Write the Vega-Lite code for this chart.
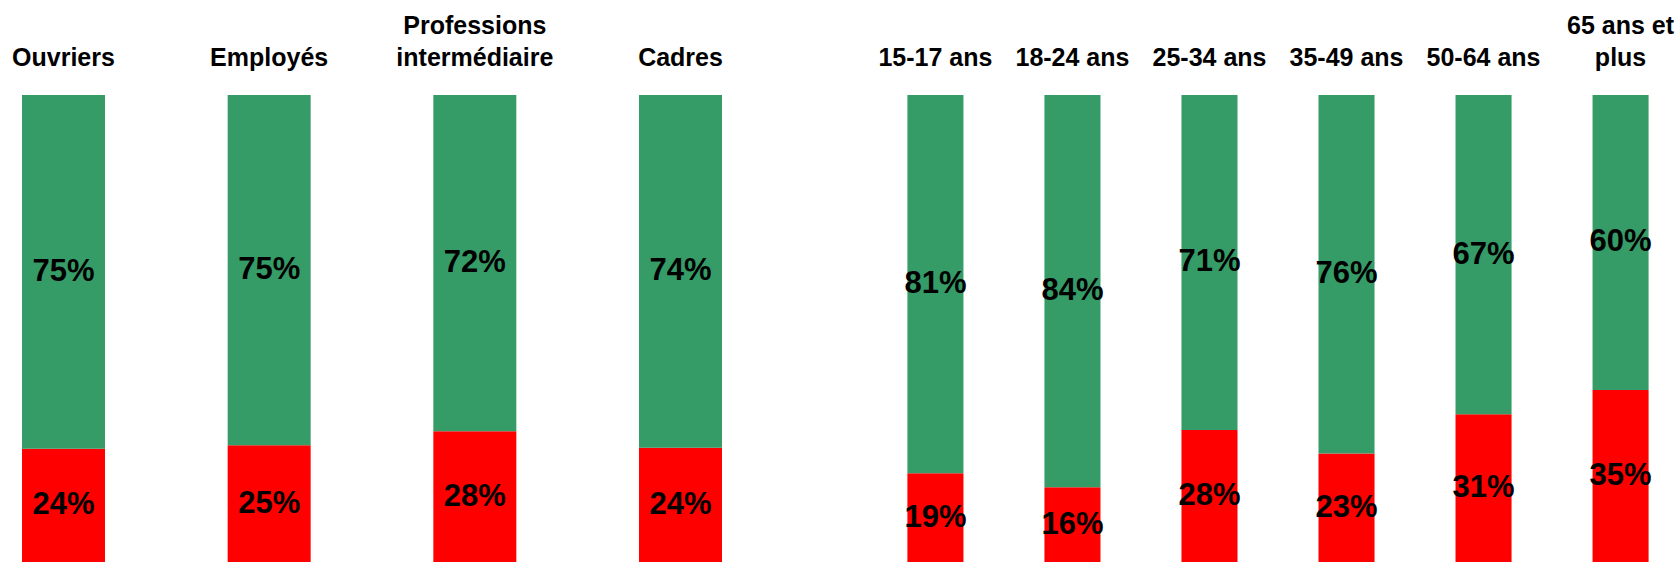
{
  "$schema": "https://vega.github.io/schema/vega-lite/v6.json",
  "padding": {"left": 0, "top": 13, "right": 0, "bottom": 0},
  "background": "white",
  "config": {
    "view": {"stroke": null},
    "font": "Liberation Sans",
    "axis": {"labelColor": "#000000", "labelFont": "Liberation Sans", "labelFontWeight": "bold", "labelFontSize": 25}
  },
  "datasets": {
    "professions": [
      {"cat": "Ouvriers", "serie": "Non", "val": 0.24},
      {"cat": "Ouvriers", "serie": "Oui", "val": 0.75},
      {"cat": "Employés", "serie": "Non", "val": 0.25},
      {"cat": "Employés", "serie": "Oui", "val": 0.75},
      {"cat": "Professions\nintermédiaire", "serie": "Non", "val": 0.28},
      {"cat": "Professions\nintermédiaire", "serie": "Oui", "val": 0.72},
      {"cat": "Cadres", "serie": "Non", "val": 0.24},
      {"cat": "Cadres", "serie": "Oui", "val": 0.74}
    ],
    "ages": [
      {"cat": "15-17 ans", "serie": "Non", "val": 0.19},
      {"cat": "15-17 ans", "serie": "Oui", "val": 0.81},
      {"cat": "18-24 ans", "serie": "Non", "val": 0.16},
      {"cat": "18-24 ans", "serie": "Oui", "val": 0.84},
      {"cat": "25-34 ans", "serie": "Non", "val": 0.28},
      {"cat": "25-34 ans", "serie": "Oui", "val": 0.71},
      {"cat": "35-49 ans", "serie": "Non", "val": 0.23},
      {"cat": "35-49 ans", "serie": "Oui", "val": 0.76},
      {"cat": "50-64 ans", "serie": "Non", "val": 0.31},
      {"cat": "50-64 ans", "serie": "Oui", "val": 0.67},
      {"cat": "65 ans et\nplus", "serie": "Non", "val": 0.35},
      {"cat": "65 ans et\nplus", "serie": "Oui", "val": 0.60}
    ]
  },
  "spacing": 133,
  "hconcat": [
    {
      "width": 744,
      "height": 467,
      "data": {"name": "professions"},
      "encoding": {
        "x": {
          "field": "cat", "type": "nominal", "sort": null,
          "scale": {"paddingInner": 0.5965, "paddingOuter": 0.107},
          "axis": {"orient": "top", "title": null, "ticks": false, "domain": false, "labelAngle": 0, "labelPadding": 57, "labelBaseline": "bottom", "labelLineHeight": 32, "labelLimit": 0, "labelOverlap": false, "labelExpr": "indexof(datum.label, '\\n') >= 0 ? split(datum.label, '\\n') : ['', datum.label]"}
        },
        "order": {"field": "serie", "sort": "ascending"}
      },
      "layer": [
        {
          "mark": {"type": "bar"},
          "encoding": {
            "y": {"field": "val", "type": "quantitative", "stack": "normalize", "scale": {"domain": [0, 1], "nice": false}, "axis": null},
            "color": {"field": "serie", "type": "nominal", "scale": {"domain": ["Non", "Oui"], "range": ["#FF0000", "#359C68"]}, "legend": null}
          }
        },
        {
          "mark": {"type": "text", "fontSize": 31, "fontWeight": "bold", "color": "#000000", "baseline": "middle"},
          "encoding": {
            "y": {"field": "val", "type": "quantitative", "stack": "normalize", "bandPosition": 0.5},
            "detail": {"field": "serie"},
            "text": {"field": "val", "type": "quantitative", "format": ".0%"}
          }
        }
      ]
    },
    {
      "width": 796,
      "height": 467,
      "data": {"name": "ages"},
      "encoding": {
        "x": {
          "field": "cat", "type": "nominal", "sort": null,
          "scale": {"paddingInner": 0.591, "paddingOuter": 0.2},
          "axis": {"orient": "top", "title": null, "ticks": false, "domain": false, "labelAngle": 0, "labelPadding": 57, "labelBaseline": "bottom", "labelLineHeight": 32, "labelLimit": 0, "labelOverlap": false, "labelExpr": "indexof(datum.label, '\\n') >= 0 ? split(datum.label, '\\n') : ['', datum.label]"}
        },
        "order": {"field": "serie", "sort": "ascending"}
      },
      "layer": [
        {
          "mark": {"type": "bar"},
          "encoding": {
            "y": {"field": "val", "type": "quantitative", "stack": "normalize", "scale": {"domain": [0, 1], "nice": false}, "axis": null},
            "color": {"field": "serie", "type": "nominal", "scale": {"domain": ["Non", "Oui"], "range": ["#FF0000", "#359C68"]}, "legend": null}
          }
        },
        {
          "mark": {"type": "text", "fontSize": 31, "fontWeight": "bold", "color": "#000000", "baseline": "middle"},
          "encoding": {
            "y": {"field": "val", "type": "quantitative", "stack": "normalize", "bandPosition": 0.5},
            "detail": {"field": "serie"},
            "text": {"field": "val", "type": "quantitative", "format": ".0%"}
          }
        }
      ]
    }
  ]
}
